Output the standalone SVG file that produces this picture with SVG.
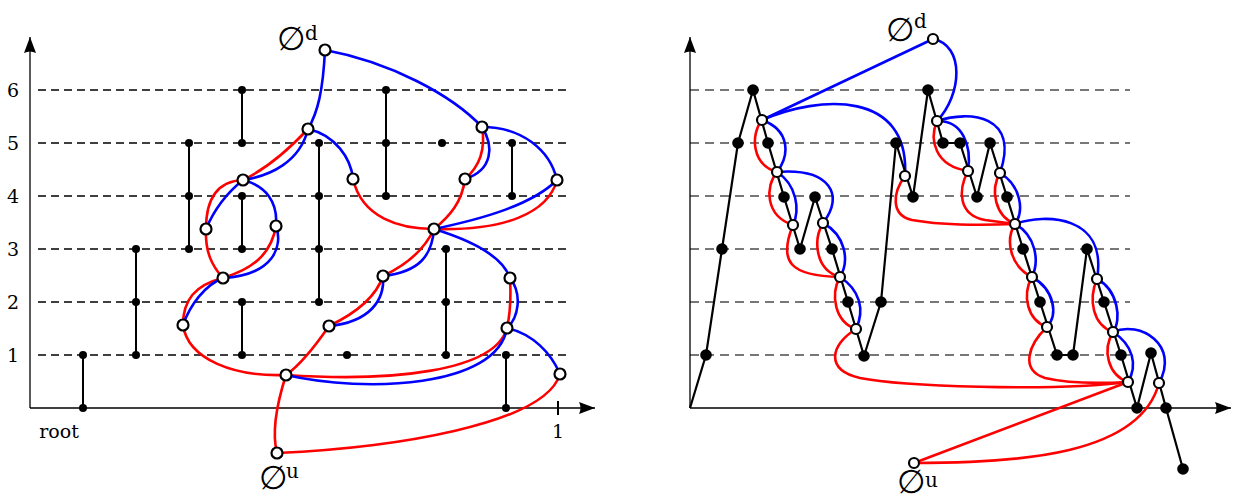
<svg xmlns="http://www.w3.org/2000/svg" width="1236" height="499" viewBox="0 0 1236 499">
<style>
.ax{stroke:#000;stroke-width:1.3;fill:none}
.gl{stroke:#000;stroke-width:1.4;stroke-dasharray:8 5;fill:none}
.gr{stroke:#777;stroke-width:2;stroke-dasharray:9 6;fill:none}
.st{stroke:#000;stroke-width:2;fill:none}
.r{stroke:#f00;stroke-width:2.6;fill:none}
.b{stroke:#00f;stroke-width:2.6;fill:none}
.sd{fill:#000}
.bd{fill:#000}
.op{fill:#fff;stroke:#000;stroke-width:2.2}
.walk{stroke:#000;stroke-width:2.2;fill:none;stroke-linejoin:round}
.t{font-family:"DejaVu Serif","Liberation Serif",serif;font-size:19px;fill:#000}
.s{font-family:"DejaVu Serif","Liberation Serif",serif;font-size:20px;fill:#000}
.e{font-family:"DejaVu Sans","Noto Sans",sans-serif;font-size:33px;fill:#000}
</style>
<defs>
<marker id="arr" markerUnits="userSpaceOnUse" markerWidth="17" markerHeight="12" refX="16" refY="6" orient="auto" viewBox="0 0 17 12">
<path d="M0,0 L16,6 L0,12 Q3,6 0,0 z" fill="#000"/>
</marker>
</defs>
<rect width="1236" height="499" fill="#fff"/>

<!-- LEFT PANEL -->
<g id="left-grid">
<line class="gl" x1="38" y1="355" x2="570" y2="355"/>
<line class="gl" x1="38" y1="302" x2="570" y2="302"/>
<line class="gl" x1="38" y1="249" x2="570" y2="249"/>
<line class="gl" x1="38" y1="196" x2="570" y2="196"/>
<line class="gl" x1="38" y1="143" x2="570" y2="143"/>
<line class="gl" x1="38" y1="90" x2="570" y2="90"/>
</g>
<g id="left-axes">
<line class="ax" x1="30" y1="408" x2="30" y2="37" marker-end="url(#arr)"/>
<line class="ax" x1="30" y1="408" x2="595" y2="408" marker-end="url(#arr)"/>
<line class="st" x1="558" y1="401" x2="558" y2="415"/>
<text class="t" x="13" y="362" text-anchor="middle">1</text>
<text class="t" x="13" y="309" text-anchor="middle">2</text>
<text class="t" x="13" y="256" text-anchor="middle">3</text>
<text class="t" x="13" y="203" text-anchor="middle">4</text>
<text class="t" x="13" y="150" text-anchor="middle">5</text>
<text class="t" x="13" y="97" text-anchor="middle">6</text>
<text class="t" x="59" y="438" text-anchor="middle">root</text>
<text class="t" x="558" y="438" text-anchor="middle">1</text>
</g>
<g id="left-tree">
<line class="st" x1="83" y1="408" x2="83" y2="355"/>
<line class="st" x1="136" y1="355" x2="136" y2="249"/>
<line class="st" x1="189" y1="249" x2="189" y2="143"/>
<line class="st" x1="242" y1="143" x2="242" y2="90"/>
<line class="st" x1="242" y1="249" x2="242" y2="196"/>
<line class="st" x1="242" y1="355" x2="242" y2="302"/>
<line class="st" x1="319" y1="302" x2="319" y2="143"/>
<line class="st" x1="386" y1="196" x2="386" y2="90"/>
<line class="st" x1="512" y1="196" x2="512" y2="143"/>
<line class="st" x1="446" y1="355" x2="446" y2="249"/>
<line class="st" x1="506" y1="408" x2="506" y2="355"/>
<g class="sd">
<circle cx="83" cy="408" r="4"/><circle cx="83" cy="355" r="4"/>
<circle cx="136" cy="355" r="4"/><circle cx="136" cy="302" r="4"/><circle cx="136" cy="249" r="4"/>
<circle cx="189" cy="249" r="4"/><circle cx="189" cy="196" r="4"/><circle cx="189" cy="143" r="4"/>
<circle cx="242" cy="90" r="4"/><circle cx="242" cy="143" r="4"/><circle cx="242" cy="196" r="4"/><circle cx="242" cy="249" r="4"/><circle cx="242" cy="302" r="4"/><circle cx="242" cy="355" r="4"/>
<circle cx="319" cy="143" r="4"/><circle cx="319" cy="196" r="4"/><circle cx="319" cy="249" r="4"/><circle cx="319" cy="302" r="4"/>
<circle cx="386" cy="90" r="4"/><circle cx="386" cy="143" r="4"/><circle cx="386" cy="196" r="4"/>
<circle cx="442" cy="143" r="4"/>
<circle cx="512" cy="143" r="4"/><circle cx="512" cy="196" r="4"/>
<circle cx="446" cy="249" r="4"/><circle cx="446" cy="302" r="4"/><circle cx="446" cy="355" r="4"/>
<circle cx="347" cy="355" r="4"/>
<circle cx="506" cy="355" r="4"/><circle cx="506" cy="408" r="4"/>
</g>
</g>
<g id="left-connectors">
<path class="r" d="M308,129 C292,146 268,168 243,180"/>
<path class="r" d="M243,180 C220,181 206,195 206,229"/>
<path class="r" d="M206,229 C205,252 212,266 223,278"/>
<path class="r" d="M276,226 C271,255 252,269 223,278"/>
<path class="r" d="M223,278 C195,285 183,300 183,325"/>
<path class="r" d="M183,325 C188,360 235,377 286,375"/>
<path class="r" d="M286,375 C278,400 271,430 277,453"/>
<path class="r" d="M277,453 C390,448 545,425 560,374"/>
<path class="r" d="M286,375 C390,382 495,372 507,328"/>
<path class="r" d="M329,326 C316,345 300,365 286,375"/>
<path class="r" d="M329,326 C350,316 375,300 383,276"/>
<path class="r" d="M383,276 C400,268 422,255 434,229"/>
<path class="r" d="M353,179 C362,218 400,229 434,229"/>
<path class="r" d="M465,179 C462,202 450,216 434,229"/>
<path class="r" d="M482,127 C486,150 480,166 465,179"/>
<path class="r" d="M434,229 C505,231 548,213 557,180"/>
<path class="r" d="M507,328 C511,310 511,295 510,278"/>
<path class="b" d="M325,50 C323,90 318,112 308,129"/>
<path class="b" d="M325,50 C390,62 452,95 482,127"/>
<path class="b" d="M308,129 C300,162 270,176 243,180"/>
<path class="b" d="M308,129 C335,135 351,158 353,179"/>
<path class="b" d="M243,180 C228,192 214,210 206,229"/>
<path class="b" d="M243,180 C266,186 278,202 276,226"/>
<path class="b" d="M276,226 C283,245 275,275 223,278"/>
<path class="b" d="M223,278 C205,285 190,305 183,325"/>
<path class="b" d="M286,375 C365,393 497,388 507,328"/>
<path class="b" d="M507,328 C533,334 551,353 560,374"/>
<path class="b" d="M510,278 C523,295 518,318 507,328"/>
<path class="b" d="M329,326 C370,322 385,300 383,276"/>
<path class="b" d="M383,276 C420,272 432,255 434,229"/>
<path class="b" d="M434,229 C470,240 502,255 510,278"/>
<path class="b" d="M482,127 C494,146 493,170 465,179"/>
<path class="b" d="M482,127 C522,127 550,150 557,180"/>
<path class="b" d="M434,229 C482,219 532,205 557,180"/>
</g>
<g id="left-nodes">
<g id="L-d"><circle class="op" cx="325" cy="50" r="5.5"/><text class="e" x="291" y="50" text-anchor="middle">∅</text><text class="s" x="305" y="40">d</text></g>
<g id="L-u"><circle class="op" cx="277" cy="453" r="5.5"/><text class="e" x="273" y="489" text-anchor="middle">∅</text><text class="s" x="286" y="478">u</text></g>
<g id="L-B"><circle class="op" cx="308" cy="129" r="5.5"/></g>
<g id="L-C"><circle class="op" cx="243" cy="180" r="5.5"/></g>
<g id="L-D"><circle class="op" cx="206" cy="229" r="5.5"/></g>
<g id="L-E"><circle class="op" cx="276" cy="226" r="5.5"/></g>
<g id="L-F"><circle class="op" cx="223" cy="278" r="5.5"/></g>
<g id="L-G"><circle class="op" cx="183" cy="325" r="5.5"/></g>
<g id="L-H"><circle class="op" cx="286" cy="375" r="5.5"/></g>
<g id="L-J"><circle class="op" cx="353" cy="179" r="5.5"/></g>
<g id="L-K"><circle class="op" cx="482" cy="127" r="5.5"/></g>
<g id="L-L"><circle class="op" cx="465" cy="179" r="5.5"/></g>
<g id="L-M"><circle class="op" cx="557" cy="180" r="5.5"/></g>
<g id="L-N"><circle class="op" cx="434" cy="229" r="5.5"/></g>
<g id="L-O"><circle class="op" cx="383" cy="276" r="5.5"/></g>
<g id="L-P"><circle class="op" cx="329" cy="326" r="5.5"/></g>
<g id="L-Q"><circle class="op" cx="510" cy="278" r="5.5"/></g>
<g id="L-R"><circle class="op" cx="507" cy="328" r="5.5"/></g>
<g id="L-S"><circle class="op" cx="560" cy="374" r="5.5"/></g>
</g>

<!-- RIGHT PANEL -->
<g id="right-grid">
<line class="gr" x1="690" y1="355" x2="1130" y2="355"/>
<line class="gr" x1="690" y1="302" x2="1130" y2="302"/>
<line class="gr" x1="690" y1="249" x2="1130" y2="249"/>
<line class="gr" x1="690" y1="196" x2="1130" y2="196"/>
<line class="gr" x1="690" y1="143" x2="1130" y2="143"/>
<line class="gr" x1="690" y1="90" x2="1130" y2="90"/>
</g>
<g id="right-axes">
<line class="ax" x1="690" y1="408" x2="690" y2="37" marker-end="url(#arr)"/>
<line class="ax" x1="690" y1="408" x2="1231" y2="408" marker-end="url(#arr)"/>
</g>
<g id="right-connectors">
<path class="r" d="M762,120 C750,135 752,165 777,172"/>
<path class="r" d="M777,172 C765,186 765,216 793,225"/>
<path class="r" d="M793,225 C778,262 790,276 840,277"/>
<path class="r" d="M823,223 C813,240 815,270 840,277"/>
<path class="r" d="M840,277 C830,295 835,322 856,329"/>
<path class="r" d="M856,329 C830,345 825,370 860,378 C900,386 1050,392 1128,382"/>
<path class="r" d="M905,176 C893,192 890,215 912,220 C945,226 990,225 1015,224"/>
<path class="r" d="M937,121 C929,140 935,166 968,171"/>
<path class="r" d="M968,171 C958,190 958,215 985,220 C1000,222 1008,223 1015,224"/>
<path class="r" d="M1000,173 C990,190 995,216 1015,224"/>
<path class="r" d="M1015,224 C1005,240 1010,266 1032,277"/>
<path class="r" d="M1032,277 C1022,295 1027,320 1047,327"/>
<path class="r" d="M1047,327 C1028,345 1020,370 1045,378 C1075,385 1110,383 1128,382"/>
<path class="r" d="M1097,279 C1088,300 1093,325 1113,332"/>
<path class="r" d="M1113,332 C1102,350 1108,375 1128,382"/>
<path class="r" d="M914,463 L1128,382"/>
<path class="r" d="M914,463 C1020,463 1140,455 1159,383"/>
<path class="b" d="M933,39 L762,120"/>
<path class="b" d="M933,39 C965,45 962,95 937,121"/>
<path class="b" d="M762,120 C820,95 910,90 905,176"/>
<path class="b" d="M762,120 C790,130 790,155 777,172"/>
<path class="b" d="M777,172 C830,168 845,195 823,223"/>
<path class="b" d="M777,172 C797,185 800,210 793,225"/>
<path class="b" d="M823,223 C845,235 850,260 840,277"/>
<path class="b" d="M840,277 C860,290 865,310 856,329"/>
<path class="b" d="M937,121 C962,120 972,145 968,171"/>
<path class="b" d="M937,121 C970,110 1020,115 1000,173"/>
<path class="b" d="M1000,173 C1020,185 1025,210 1015,224"/>
<path class="b" d="M1015,224 C1045,213 1108,215 1097,279"/>
<path class="b" d="M1015,224 C1035,235 1040,260 1032,277"/>
<path class="b" d="M1032,277 C1055,290 1058,315 1047,327"/>
<path class="b" d="M1097,279 C1118,290 1122,320 1113,332"/>
<path class="b" d="M1113,332 C1140,320 1180,345 1159,383"/>
<path class="b" d="M1113,332 C1133,345 1138,365 1128,382"/>
</g>
<g id="right-walk">
<polyline class="walk" points="690,408 706,355 722,249 738,143 753,90 768,143 784,197 800,249 815,197 832,249 848,302 864,356 881,302 896,143 913,197 928,90 943,143 960,143 977,197 990,143 1007,197 1023,249 1040,302 1057,355 1073,355 1087,249 1104,302 1121,355 1137,408 1151,353 1166,408 1183,469"/>
<g class="bd">
<circle cx="706" cy="355" r="5.8"/><circle cx="722" cy="249" r="5.8"/><circle cx="738" cy="143" r="5.8"/><circle cx="753" cy="90" r="5.8"/>
<circle cx="768" cy="143" r="5.8"/><circle cx="784" cy="197" r="5.8"/><circle cx="800" cy="249" r="5.8"/><circle cx="815" cy="197" r="5.8"/>
<circle cx="832" cy="249" r="5.8"/><circle cx="848" cy="302" r="5.8"/><circle cx="864" cy="356" r="5.8"/><circle cx="881" cy="302" r="5.8"/>
<circle cx="896" cy="143" r="5.8"/><circle cx="913" cy="197" r="5.8"/><circle cx="928" cy="90" r="5.8"/><circle cx="943" cy="143" r="5.8"/>
<circle cx="960" cy="143" r="5.8"/><circle cx="977" cy="197" r="5.8"/><circle cx="990" cy="143" r="5.8"/><circle cx="1007" cy="197" r="5.8"/>
<circle cx="1023" cy="249" r="5.8"/><circle cx="1040" cy="302" r="5.8"/><circle cx="1057" cy="355" r="5.8"/><circle cx="1073" cy="355" r="5.8"/>
<circle cx="1087" cy="249" r="5.8"/><circle cx="1104" cy="302" r="5.8"/><circle cx="1121" cy="355" r="5.8"/><circle cx="1137" cy="408" r="5.8"/>
<circle cx="1151" cy="353" r="5.8"/><circle cx="1166" cy="408" r="5.8"/><circle cx="1183" cy="469" r="5.8"/>
</g>
</g>
<g id="right-nodes">
<g id="R-d"><circle class="op" cx="933" cy="39" r="5"/><text class="e" x="900" y="41" text-anchor="middle">∅</text><text class="s" x="914" y="28">d</text></g>
<g id="R-u"><circle class="op" cx="914" cy="463" r="5"/><text class="e" x="911" y="493" text-anchor="middle">∅</text><text class="s" x="925" y="487">u</text></g>
<g id="R-1"><circle class="op" cx="762" cy="120" r="5"/></g>
<g id="R-2"><circle class="op" cx="777" cy="172" r="5"/></g>
<g id="R-3"><circle class="op" cx="793" cy="225" r="5"/></g>
<g id="R-4"><circle class="op" cx="823" cy="223" r="5"/></g>
<g id="R-5"><circle class="op" cx="840" cy="277" r="5"/></g>
<g id="R-6"><circle class="op" cx="856" cy="329" r="5"/></g>
<g id="R-7"><circle class="op" cx="905" cy="176" r="5"/></g>
<g id="R-8"><circle class="op" cx="937" cy="121" r="5"/></g>
<g id="R-9"><circle class="op" cx="968" cy="171" r="5"/></g>
<g id="R-10"><circle class="op" cx="1000" cy="173" r="5"/></g>
<g id="R-11"><circle class="op" cx="1015" cy="224" r="5"/></g>
<g id="R-12"><circle class="op" cx="1032" cy="277" r="5"/></g>
<g id="R-13"><circle class="op" cx="1047" cy="327" r="5"/></g>
<g id="R-14"><circle class="op" cx="1097" cy="279" r="5"/></g>
<g id="R-15"><circle class="op" cx="1113" cy="332" r="5"/></g>
<g id="R-16"><circle class="op" cx="1128" cy="382" r="5"/></g>
<g id="R-17"><circle class="op" cx="1159" cy="383" r="5"/></g>
</g>
</svg>
